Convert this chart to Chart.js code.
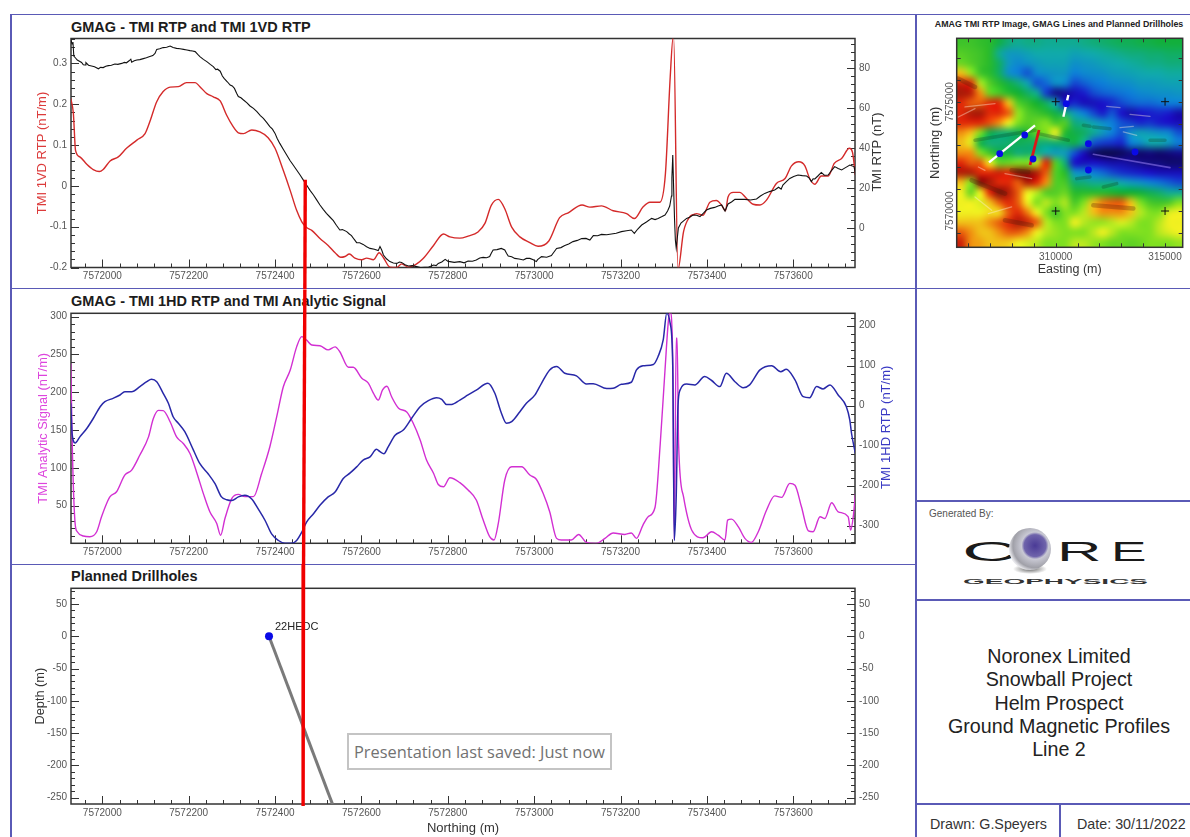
<!DOCTYPE html>
<html>
<head>
<meta charset="utf-8">
<title>Ground Magnetic Profiles Line 2</title>
<script src="https://cdn.jsdelivr.net/npm/chart.js@4"></script>
<style>
  html, body { margin: 0; padding: 0; background: #fff; width: 1190px; height: 837px; overflow: hidden; }
  body { font-family: "Liberation Sans", Arial, sans-serif; position: relative; filter: blur(0.4px); }
  canvas { position: absolute; }
  .rule { position: absolute; background: #5a5ab6; }
  .panel-title { position: absolute; left: 71px; font-weight: bold; font-size: 14.5px; line-height: 16px; color: #1c1c1c; }
  .map-title { position: absolute; left: 922px; width: 274px; top: 19px; text-align: center; font-weight: bold; font-size: 8.85px; line-height: 10px; color: #222; white-space: nowrap; }
  .generated { position: absolute; left: 929px; top: 508px; font-size: 10px; line-height: 12px; color: #555; }
  .project { position: absolute; left: 916px; width: 286px; top: 645px; text-align: center; font-size: 19.7px; line-height: 23.3px; color: #222; }
  .signoff { position: absolute; top: 816px; font-size: 14.3px; line-height: 16px; color: #333; }
  .saved { position: absolute; left: 347px; top: 732.5px; width: 265px; height: 37px; box-sizing: border-box; border: 2px solid #c4c4c4; background: #fff; color: #727272; font-family: "Open Sans", sans-serif; font-size: 16.4px; line-height: 33px; padding-left: 5px; white-space: nowrap; }
  #logo { position: absolute; left: 950px; top: 520px; }
</style>
</head>
<body>
  <!-- sheet layout -->
  <div class="rule" style="left:10px;top:13.5px;width:1180px;height:1.5px"></div>
  <div class="rule" style="left:10px;top:14px;width:1.5px;height:823px"></div>
  <div class="rule" style="left:915px;top:14px;width:1.5px;height:823px"></div>
  <div class="rule" style="left:10px;top:288px;width:1180px;height:1.2px"></div>
  <div class="rule" style="left:10px;top:563.5px;width:905px;height:1.2px"></div>
  <div class="rule" style="left:915px;top:500px;width:275px;height:1.5px"></div>
  <div class="rule" style="left:915px;top:599px;width:275px;height:1.5px"></div>
  <div class="rule" style="left:915px;top:803px;width:275px;height:1.5px"></div>
  <div class="rule" style="left:1059px;top:803px;width:1.5px;height:34px"></div>

  <div class="panel-title" style="top:19px">GMAG - TMI RTP and TMI 1VD RTP</div>
  <div class="panel-title" style="top:293px">GMAG - TMI 1HD RTP and TMI Analytic Signal</div>
  <div class="panel-title" style="top:568px">Planned Drillholes</div>
  <div class="map-title">AMAG TMI RTP Image, GMAG Lines and Planned Drillholes</div>

  <canvas id="mapChart" width="274" height="275" style="left:916px;top:14px"></canvas>
  <canvas id="rtpChart" width="915" height="275" style="left:0;top:14px"></canvas>
  <canvas id="signalChart" width="915" height="275" style="left:0;top:289px"></canvas>
  <canvas id="drillChart" width="915" height="273" style="left:0;top:564px"></canvas>

  <div class="generated">Generated By:</div>
  <svg id="logo" width="210" height="72" viewBox="0 0 210 72">
    <defs>
      <radialGradient id="ball" cx="0.62" cy="0.42" r="0.62">
        <stop offset="0" stop-color="#4a3a96"/>
        <stop offset="0.42" stop-color="#6f64ab"/>
        <stop offset="0.52" stop-color="#c9c9d4"/>
        <stop offset="0.85" stop-color="#a0a0a8"/>
        <stop offset="1" stop-color="#e6e6ea"/>
      </radialGradient>
      <radialGradient id="shade" cx="0.5" cy="0.5" r="0.5">
        <stop offset="0" stop-color="#666"/>
        <stop offset="1" stop-color="#fff"/>
      </radialGradient>
    </defs>
    <ellipse cx="80" cy="49" rx="17" ry="5" fill="url(#shade)"/>
    <g font-family="Liberation Sans" fill="#1a1a1a">
      <text transform="translate(12,41) scale(2.75,1)" font-size="28">C</text>
      <circle cx="80" cy="29" r="21" fill="url(#ball)"/>
      <text transform="translate(107,41) scale(2.2,1)" font-size="28">R</text>
      <text transform="translate(161,41) scale(1.9,1)" font-size="28">E</text>
      <text transform="translate(13,64) scale(1,0.9)" font-size="8.5" font-weight="bold" textLength="185" lengthAdjust="spacingAndGlyphs" fill="#333">GEOPHYSICS</text>
    </g>
  </svg>

  <div class="project">Noronex Limited<br>Snowball Project<br>Helm Prospect<br>Ground Magnetic Profiles<br>Line 2</div>
  <div class="signoff" style="left:930px">Drawn: G.Speyers</div>
  <div class="signoff" style="left:1077px">Date: 30/11/2022</div>
  <div class="saved">Presentation last saved: Just now</div>

<script>
// Axis ticks shared by the three profile panels
const northingTicks = [7572000, 7572200, 7572400, 7572600, 7572800, 7573000, 7573200, 7573400, 7573600];
const vdTicks = [-0.2, -0.1, 0, 0.1, 0.2, 0.3];
const rtpTicks = [0, 20, 40, 60, 80];
const asTicks = [50, 100, 150, 200, 250, 300];
const hdTicks = [-300, -200, -100, 0, 100, 200];
const depthTicks = [-250, -200, -150, -100, -50, 0, 50];
const eastingTicks = [310000, 315000];
const mapNorthingTicks = [7570000, 7575000];

// TMI 1VD RTP (nT/m)
const vdNorthing = [
  7571927, 7571933, 7571938, 7571948, 7571964, 7571979, 7571993, 7572002, 7572018, 7572037,
  7572056, 7572080, 7572099, 7572110, 7572126, 7572141, 7572157, 7572176, 7572195, 7572215,
  7572226, 7572242, 7572257, 7572273, 7572288, 7572303, 7572315, 7572327, 7572346, 7572365,
  7572384, 7572400, 7572419, 7572435, 7572450, 7572462, 7572473, 7572485, 7572504, 7572523,
  7572539, 7572552, 7572562, 7572572, 7572585, 7572601, 7572612, 7572628, 7572641, 7572651,
  7572666, 7572682, 7572693, 7572709, 7572728, 7572743, 7572767, 7572790, 7572805, 7572828,
  7572847, 7572870, 7572886, 7572901, 7572917, 7572932, 7572948, 7572967, 7572990, 7573009,
  7573034, 7573059, 7573079, 7573111, 7573129, 7573156, 7573183, 7573214, 7573232, 7573252,
  7573268, 7573291, 7573304, 7573315, 7573322, 7573323, 7573333, 7573346, 7573361, 7573370,
  7573376, 7573391, 7573407, 7573422, 7573434, 7573443, 7573449, 7573461, 7573476, 7573492,
  7573507, 7573523, 7573538, 7573561, 7573581, 7573596, 7573613, 7573627, 7573638, 7573650,
  7573665, 7573681, 7573695, 7573712, 7573730, 7573737, 7573744
];
const vdValues = [
  0.214, 0.177, 0.087, 0.071, 0.053, 0.040, 0.035, 0.040, 0.061, 0.071,
  0.092, 0.112, 0.128, 0.157, 0.206, 0.231, 0.242, 0.243, 0.253, 0.253,
  0.243, 0.226, 0.218, 0.208, 0.173, 0.145, 0.130, 0.128, 0.137, 0.132,
  0.118, 0.092, 0.038, -0.011, -0.060, -0.088, -0.102, -0.109, -0.129, -0.146,
  -0.164, -0.175, -0.173, -0.167, -0.177, -0.181, -0.177, -0.181, -0.164, -0.176,
  -0.199, -0.200, -0.191, -0.199, -0.191, -0.178, -0.146, -0.118, -0.125, -0.128,
  -0.123, -0.113, -0.092, -0.047, -0.033, -0.056, -0.101, -0.125, -0.139, -0.148,
  -0.135, -0.078, -0.066, -0.047, -0.052, -0.049, -0.061, -0.068, -0.080, -0.052,
  -0.040, -0.040, 0.03, 0.265, 0.365, 0.365, -0.205, -0.112, -0.075, -0.070,
  -0.068, -0.072, -0.040, -0.036, -0.047, -0.061, -0.027, -0.016, -0.016, -0.031,
  -0.045, -0.047, -0.035, 0.006, 0.018, 0.049, 0.059, 0.049, 0.018, 0.004,
  0.024, 0.024, 0.055, 0.067, 0.092, 0.083, 0.026
];

// TMI RTP (nT)
const rtpNorthing = [
  7571927, 7571930, 7571932, 7571934, 7571938, 7571942, 7571947, 7571952, 7571956, 7571960,
  7571962, 7571968, 7571975, 7571982, 7571991, 7571996, 7572002, 7572008, 7572014, 7572021,
  7572029, 7572036, 7572045, 7572051, 7572056, 7572062, 7572066, 7572068, 7572074, 7572080,
  7572087, 7572095, 7572102, 7572110, 7572117, 7572122, 7572126, 7572133, 7572141, 7572149,
  7572157, 7572164, 7572172, 7572180, 7572188, 7572196, 7572203, 7572209, 7572215, 7572221,
  7572226, 7572234, 7572242, 7572250, 7572257, 7572263, 7572267, 7572273, 7572278, 7572282,
  7572290, 7572296, 7572301, 7572306, 7572311, 7572315, 7572321, 7572327, 7572335, 7572342,
  7572350, 7572358, 7572366, 7572373, 7572381, 7572388, 7572394, 7572400, 7572405, 7572411,
  7572419, 7572427, 7572435, 7572442, 7572450, 7572458, 7572466, 7572473, 7572481, 7572489,
  7572496, 7572504, 7572512, 7572519, 7572527, 7572535, 7572542, 7572550, 7572556, 7572566,
  7572572, 7572577, 7572583, 7572589, 7572596, 7572604, 7572612, 7572620, 7572630, 7572639,
  7572643, 7572647, 7572651, 7572658, 7572666, 7572674, 7572682, 7572688, 7572693, 7572701,
  7572709, 7572718, 7572728, 7572737, 7572747, 7572755, 7572767, 7572773, 7572778, 7572786,
  7572794, 7572800, 7572805, 7572815, 7572828, 7572838, 7572847, 7572857, 7572866, 7572874,
  7572882, 7572890, 7572897, 7572901, 7572905, 7572914, 7572924, 7572932, 7572936, 7572940,
  7572948, 7572955, 7572965, 7572975, 7572982, 7572990, 7572998, 7573005, 7573008, 7573017,
  7573029, 7573040, 7573046, 7573052, 7573062, 7573071, 7573080, 7573090, 7573100, 7573110,
  7573120, 7573129, 7573137, 7573147, 7573156, 7573168, 7573179, 7573190, 7573202, 7573214,
  7573225, 7573232, 7573240, 7573249, 7573260, 7573272, 7573280, 7573287, 7573295, 7573303,
  7573309, 7573314, 7573318, 7573319, 7573321, 7573323, 7573325, 7573327, 7573329, 7573331,
  7573334, 7573340, 7573353, 7573360, 7573368, 7573376, 7573384, 7573392, 7573399, 7573408,
  7573418, 7573426, 7573434, 7573442, 7573449, 7573457, 7573465, 7573476, 7573488, 7573501,
  7573515, 7573524, 7573534, 7573545, 7573557, 7573566, 7573572, 7573576, 7573584, 7573592,
  7573601, 7573611, 7573621, 7573631, 7573637, 7573642, 7573646, 7573650, 7573657, 7573665,
  7573672, 7573681, 7573688, 7573696, 7573704, 7573712, 7573721, 7573731, 7573737, 7573741,
  7573744
];
const rtpValues = [
  94.3, 92, 93, 86, 85, 84, 83.4, 82.8, 81.6, 81.5,
  82.7, 81.4, 81, 80.6, 79.6, 80.3, 80.2, 80.9, 81.2, 81.4,
  82, 81.8, 82.3, 82.8, 82.6, 83.6, 84.4, 82.9, 83.6, 84,
  84.2, 84.7, 85.1, 85.7, 86.2, 87.3, 89.3, 89.6, 90.2, 90.4,
  91, 90.2, 89.8, 89.6, 89.3, 89, 88.7, 88.5, 88.2, 86.8,
  85.7, 84.3, 83.2, 81.8, 80.7, 79.2, 79.4, 78.4, 76, 74.8,
  73, 71.5, 71, 69.8, 67.4, 65.7, 65.1, 64, 62.6, 61,
  59.8, 58.2, 56.2, 54.8, 52.7, 50.7, 49.4, 47.3, 44.8, 42.3,
  39.4, 36.5, 33.6, 31.5, 29, 26.5, 23.8, 21.5, 18.8, 16.5,
  14.2, 11.5, 9.2, 7.3, 5.5, 3.7, 1.4, -1, -0.8, -1.8,
  -3, -3.8, -5.6, -7.3, -7.4, -8.2, -9.4, -10.2, -10.6, -11.3,
  -9.3, -11, -13.5, -15.4, -16.8, -17.5, -17.7, -17, -17.2, -18.4,
  -19, -18.8, -19.3, -19.8, -19.7, -19.6, -18.5, -18.8, -17.7, -17,
  -15.7, -16.6, -16.8, -17.2, -16.8, -17.4, -16.5, -16.6, -16, -15,
  -14.7, -14.9, -14.3, -12.5, -11, -10.8, -10.2, -11, -12.6, -14,
  -14.4, -15.2, -15.5, -16, -15.2, -15.2, -15.9, -16.8, -15.8, -14.3,
  -14.6, -13.8, -12, -10.2, -9.8, -8.8, -8, -6.8, -6.2, -5.3,
  -5.2, -6, -3.8, -3.9, -3.2, -3.4, -3, -2.6, -1.8, -1.4,
  -1, -2.7, -0.5, 1.5, 3, 4.8, 4.2, 4.8, 5.6, 6.5,
  8.5, 11, 16, 25, 36.5, 20, 5, -6, -10, -6,
  0, 2.5, 4.8, 5.4, 6.5, 6.4, 5.7, 7.4, 9, 9.8,
  10.3, 11, 11.5, 8.5, 12, 13, 14.3, 14.4, 14.3, 14,
  14.5, 16, 17.3, 18.2, 19, 20.4, 19.4, 21.5, 23.2, 24.8,
  25.8, 26.5, 26.2, 26, 25, 23.2, 24.6, 24.5, 26, 27.8,
  26.4, 26.5, 28.6, 30.7, 29.8, 29, 30.2, 31.5, 31, 30.7,
  26.5
];

// TMI Analytic Signal (nT/m)
const asNorthing = [
  7571927, 7571931, 7571937, 7571942, 7571956, 7571971, 7571987, 7571998, 7572010, 7572018,
  7572033, 7572052, 7572068, 7572087, 7572107, 7572118, 7572130, 7572141, 7572157, 7572172,
  7572188, 7572203, 7572218, 7572234, 7572249, 7572265, 7572274, 7572284, 7572300, 7572315,
  7572330, 7572350, 7572369, 7572388, 7572404, 7572419, 7572435, 7572450, 7572462, 7572473,
  7572485, 7572504, 7572523, 7572539, 7572550, 7572570, 7572581, 7572601, 7572616, 7572628,
  7572639, 7572649, 7572659, 7572670, 7572686, 7572705, 7572720, 7572736, 7572751, 7572767,
  7572778, 7572790, 7572805, 7572828, 7572847, 7572866, 7572882, 7572897, 7572907, 7572917,
  7572932, 7572948, 7572971, 7572990, 7573005, 7573021, 7573036, 7573052, 7573063, 7573086,
  7573103, 7573121, 7573144, 7573164, 7573183, 7573210, 7573225, 7573237, 7573252, 7573264,
  7573280, 7573292, 7573303, 7573311, 7573315, 7573321, 7573324.5, 7573329, 7573331, 7573334.5,
  7573346, 7573365, 7573391, 7573411, 7573426, 7573442, 7573448, 7573457, 7573473, 7573488,
  7573503, 7573519, 7573538, 7573557, 7573573, 7573592, 7573604, 7573619, 7573635, 7573646,
  7573662, 7573673, 7573689, 7573704, 7573727, 7573733, 7573739, 7573744
];
const asValues = [
  238, 115, 26.7, 15.6, 9.9, 9, 15.6, 35, 53, 62,
  68.5, 90.5, 97, 117, 141, 165, 176, 175.7, 161, 141,
  132, 119, 95, 66, 42, 26.5, 11, 33, 59.6, 65,
  62, 62, 92.6, 128, 168, 207, 229, 260, 273.5, 269,
  262.5, 261.5, 256, 260, 253.6, 233, 233, 218.5, 212, 198.5,
  189.6, 203, 208, 194, 179, 174, 159, 137, 110, 93,
  78, 75, 87, 80.5, 70.7, 57.5, 31, 9, 4.6, 26.6,
  84, 101.5, 101.5, 90.5, 85, 66, 42, 6.8, 4.6, 4.6,
  12, 1.5, 0.2, 6.8, 14, 12, 14, 6.8, 24.4, 35.5,
  48, 132, 229, 295, 306, 242, 5, 271.5, 271.5, 132,
  61.6, 17.6, 7.7, 15.6, 11, 4.6, 31, 32.2, 22, 6.8,
  1.5, 15.6, 44, 63, 61, 79.5, 77, 48.6, 16.8, 15.6,
  35.5, 33, 54, 42, 35.5, 17.7, 35.5, 66
];

// TMI 1HD RTP (nT/m)
const hdNorthing = [
  7571927, 7571930, 7571937, 7571948, 7571964, 7571979, 7571995, 7572006, 7572025, 7572041,
  7572052, 7572068, 7572087, 7572103, 7572114, 7572126, 7572141, 7572153, 7572164, 7572176,
  7572191, 7572211, 7572226, 7572245, 7572261, 7572276, 7572288, 7572300, 7572315, 7572330,
  7572346, 7572361, 7572377, 7572392, 7572408, 7572423, 7572438, 7572450, 7572462, 7572473,
  7572489, 7572504, 7572523, 7572539, 7572558, 7572574, 7572589, 7572604, 7572620, 7572635,
  7572643, 7572652, 7572662, 7572678, 7572697, 7572716, 7572736, 7572755, 7572774, 7572786,
  7572797, 7572809, 7572828, 7572847, 7572866, 7572893, 7572909, 7572923, 7572936, 7572948,
  7572967, 7572982, 7573002, 7573017, 7573036, 7573052, 7573071, 7573098, 7573121, 7573137,
  7573168, 7573183, 7573202, 7573225, 7573237, 7573252, 7573276, 7573287, 7573299, 7573307,
  7573315, 7573321, 7573324.5, 7573329, 7573333, 7573338, 7573353, 7573372, 7573395, 7573411,
  7573430, 7573445, 7573465, 7573484, 7573499, 7573523, 7573550, 7573571, 7573584, 7573604,
  7573623, 7573638, 7573654, 7573669, 7573685, 7573704, 7573723, 7573731, 7573735, 7573744
];
const hdValues = [
  6, -70, -93, -78, -57, -32, -2.5, 10, 18.4, 26.8,
  35, 35, 47.7, 60, 66, 60, 31, 6, -27.6, -44,
  -65, -111, -145, -170, -195, -228, -235, -237, -228, -224,
  -233, -258, -287, -320.5, -337, -344, -344, -337, -316, -291,
  -270, -249, -228, -216, -182, -168, -153, -136, -128, -109,
  -115, -120, -103, -74, -61, -32, -2.5, 12.6, 20, 16,
  3.3, 3.3, 14, 26.8, 39, 56, 31, -15, -44, -40,
  -15, 6, 27, 56, 89.5, 98, 81, 74.5, 54.4, 55,
  42.7, 43.5, 53.5, 58.6, 89.5, 99.6, 103, 123, 165, 231,
  206, 97, -337, -227, -2.5, 39, 54, 52, 73, 63,
  47.7, 81, 60, 45, 52, 89.5, 100, 85, 91, 64.4,
  22.6, 20, 47.7, 42, 52, 26.8, -2.5, -36, -69.5, -120
];

// Planned drillhole trace: collar, then down to the section floor
const holeNorthing = [7572386, 7572533];
const holeDepth = [0, -260];
const holeName = "22HEDC";

// Red marker crossing all three profile panels (each panel in its own units)
const markerNorthing1 = [7572470, 7572469];
const markerValue1 = [0.015, -0.253];
const markerNorthing2 = [7572469, 7572466];
const markerValue2 = [336, -27];
const markerNorthing3 = [7572466, 7572465];
const markerValue3 = [112, -263];

// Location map: gridded TMI RTP image, top row first, 0 = lowest, 9 = highest
const mapGrid = [
  [4.4, 4.4, 4.3, 4.2, 3.8, 3.4, 3.2, 3.3, 3.3, 3.2, 3.2, 3.2, 3.2, 3.3, 3.4, 3.5, 3.6, 3.7, 3.7, 3.8, 3.8, 3.9, 3.9, 3.9],
  [4.6, 4.5, 4.4, 4.2, 3.2, 2.6, 2.6, 2.8, 3.0, 3.0, 3.0, 3.0, 2.8, 2.9, 3, 3.1, 3.2, 3.3, 3.4, 3.4, 3.5, 3.5, 3.6, 3.6],
  [4.8, 4.6, 4.4, 4.2, 3.6, 2.6, 2.2, 2.4, 2.6, 2.8, 2.8, 2.8, 2.4, 2.5, 2.6, 2.8, 2.9, 3, 3.1, 3.2, 3.3, 3.3, 3.4, 3.4],
  [6.5, 5.2, 4.4, 4.2, 3.6, 2.4, 2.0, 1.6, 2.2, 2.4, 2.5, 2.5, 2, 2.2, 2.3, 2.4, 2.6, 2.7, 2.8, 2.9, 3, 3, 3.1, 3.1],
  [8.2, 8, 5.4, 4.6, 4.2, 3.8, 3.4, 2.8, 1.6, 1.8, 2.4, 2.2, 1.5, 1.7, 1.9, 2, 2.2, 2.3, 2.4, 2.6, 2.6, 2.7, 2.8, 2.8],
  [8.6, 8.4, 7, 4.8, 4.5, 4.2, 4, 3.6, 3.2, 1.4, 0.6, 0.7, 0.9, 1.1, 1.5, 1.7, 1.8, 1.9, 2, 2.2, 2.3, 2.4, 2.4, 2.5],
  [8, 7.5, 7.5, 8, 8, 6.5, 4.6, 4.3, 4, 3.6, 2.8, 1, 1.2, 0.9, 0.9, 1, 1.2, 1.5, 1.7, 1.8, 1.8, 1.9, 2, 2],
  [8, 8.5, 8.6, 8, 8, 7.5, 5.2, 4.6, 4.4, 4.2, 3.8, 3.4, 2.6, 2, 1.5, 1.1, 1.6, 1.0, 0.8, 1.0, 1.1, 1.2, 1.1, 0.8],
  [8, 8, 8, 7.6, 7, 6, 5, 4.6, 4.8, 5, 4.5, 4.6, 3.4, 3.2, 2.8, 2.4, 2.0, 1.6, 1.4, 1.2, 1.3, 1.1, 1, 0.9],
  [7, 6.5, 5, 3.8, 3.5, 3.5, 3.7, 4.2, 4.7, 5, 6, 4.2, 3.8, 3.6, 3.2, 2.6, 2.0, 1.6, 2.4, 2.8, 2.6, 2.4, 2.2, 1.6],
  [6.5, 5.8, 3.8, 3.4, 3.4, 3.5, 3.7, 3.6, 3.5, 3.4, 3.5, 3.6, 3.8, 3.2, 1.6, 1.4, 1.3, 1.2, 2.0, 2.4, 3, 3, 2.6, 2.0],
  [7, 7, 5, 4.4, 3.8, 3.8, 3.4, 3.5, 3.3, 3, 2.6, 2.6, 1.6, 0.9, 0.4, 0.2, 0.2, 0.3, 0.5, 0.4, 0.5, 0.4, 0.5, 0.6],
  [8, 7.5, 7.5, 6, 4.8, 4.8, 5, 5, 5.5, 8, 4.6, 3.4, 1.0, 0.9, 1.0, 0.9, 0.8, 0.8, 0.7, 0.6, 0.5, 0.5, 0.4, 0.4],
  [8.5, 8.5, 8, 8, 8.2, 8, 9, 9, 8.5, 7.5, 4.6, 4.2, 2.5, 2.3, 2.0, 1.8, 1.5, 1.3, 1.2, 1.1, 1.0, 0.9, 0.9, 0.9],
  [6.5, 5, 9, 8.6, 8, 8, 7.5, 8.5, 8, 7, 4.6, 4.5, 3.5, 3.4, 3.2, 3.2, 3.2, 2.9, 2.6, 2.4, 2.1, 1.9, 1.7, 1.5],
  [6, 4.8, 6, 8, 9, 8.5, 7.5, 6, 5.5, 4.6, 4.6, 4.8, 4.2, 4.2, 4.2, 4.2, 4.1, 4.0, 4, 3.9, 3.7, 3.5, 3.2, 3.2],
  [6, 6, 5.8, 6.5, 7.5, 8, 7.5, 6, 5, 5.5, 5, 5.4, 4.5, 5, 6.5, 7.2, 7.5, 7.5, 6.5, 5, 4.5, 4.4, 4.5, 5],
  [6, 6, 6, 6.2, 6.2, 7.5, 8, 7.2, 6, 5, 4.4, 5, 5, 5.5, 6.5, 7, 7, 7, 6.5, 5.5, 5, 5, 5.8, 6],
  [6.5, 6.5, 6.5, 7, 7.5, 8, 8.5, 8.2, 7.5, 5.5, 5, 5, 6, 5.5, 5.2, 5.2, 5.5, 5.8, 5.5, 5, 5, 5.5, 6, 6],
  [7.5, 7, 6.5, 6.5, 7, 7.5, 7.5, 7, 6, 5.5, 5.2, 5, 5, 5, 5.5, 6, 5.5, 5, 5, 5, 5, 5.5, 5.8, 6],
  [8.2, 7, 6.8, 6.5, 6.5, 6.4, 6, 5.8, 5.5, 5, 5, 5, 5.5, 5.5, 5.2, 5, 4.8, 4.8, 4.7, 4.8, 5, 5, 5, 5.2]
];
const mapColors = [[8, 8, 46], [26, 16, 200], [13, 127, 216], [16, 170, 170], [18, 176, 48], [128, 224, 32], [240, 240, 32], [240, 144, 16], [224, 40, 8], [128, 16, 8]];

// Shaded ridges on the image: easting1, northing1, easting2, northing2
const paleRidges = [
  [305548, 7574300, 306310, 7574681], [305853, 7574758, 307225, 7574910], [306463, 7572014, 306768, 7571862],
  [307682, 7571710, 308901, 7571481], [306310, 7570643, 307072, 7570033], [306920, 7569881, 307987, 7570186],
  [312330, 7574788, 312940, 7574727], [313397, 7574422, 314312, 7574331], [312940, 7573813, 313550, 7573874],
  [313092, 7573615, 313702, 7573462]
];
const purpleRidges = [[311721, 7572594, 315226, 7571984]];
const darkRidges = [
  [306310, 7573234, 309054, 7573691], [309206, 7573538, 310578, 7573234], [311264, 7573919, 311568, 7573873],
  [311721, 7573843, 312483, 7573767], [314312, 7573234, 314997, 7573234], [310959, 7571481, 311568, 7571557],
  [312178, 7571100, 312788, 7571252]
];
const brownRidges = [
  [306158, 7571405, 307682, 7570795], [307987, 7571862, 308749, 7571786], [311721, 7570262, 313550, 7570110],
  [305548, 7576053, 306310, 7575672], [307682, 7569576, 308901, 7569347]
];

// Lines and collars on the location map
const lineAEasting = [306952, 309054];
const lineANorthing = [7572226, 7573919];
const lineBEasting = [310351, 310579];
const lineBNorthing = [7574314, 7575305];
const sectionEasting = [308827, 309238];
const sectionNorthing = [7572104, 7573705];
const collarEasting = [307440, 308583, 308964, 310488, 311494, 311494, 313627];
const collarNorthing = [7572623, 7573476, 7572379, 7574909, 7573080, 7571876, 7572699];
const crossEasting = [310000, 315000, 310000, 315000];
const crossNorthing = [7575000, 7575000, 7570000, 7570000];

const labelColor = "#555";
const frameColor = "#333";

function zip(xs, ys) {
  return xs.map((x, i) => ({ x: x, y: ys[i] }));
}

function lineSet(xs, ys, color, width, extra) {
  return Object.assign({
    data: zip(xs, ys),
    borderColor: color,
    backgroundColor: color,
    borderWidth: width,
    pointRadius: 0,
    tension: 0,
    borderCapStyle: "butt"
  }, extra || {});
}

// One dataset per colour, gaps between the separate strokes
function ridgeSet(segments, color, width) {
  const data = [];
  segments.forEach((s) => {
    data.push({ x: s[0], y: s[1] }, { x: s[2], y: s[3] }, { x: s[2], y: null });
  });
  return { data: data, borderColor: color, borderWidth: width, pointRadius: 0, tension: 0, spanGaps: false, borderCapStyle: "round" };
}

function stepList(from, to, step) {
  const out = [];
  for (let v = from; v <= to + step / 1000; v += step) out.push(Math.round(v / step) * step);
  return out;
}

// Plot frame and the inward pointing major/minor ticks
function framePlugin(axes) {
  return {
    id: "frameTicks",
    beforeDatasetsDraw(chart) {
      const { ctx, chartArea: a, scales } = chart;
      ctx.save();
      ctx.strokeStyle = frameColor;
      ctx.lineWidth = 1;
      axes.forEach((ax) => {
        const scale = scales[ax.id];
        const draw = (v, len) => {
          if (v < scale.min || v > scale.max) return;
          const p = Math.round(scale.getPixelForValue(v)) + 0.5;
          ctx.beginPath();
          if (ax.side === "bottom") { ctx.moveTo(p, a.bottom); ctx.lineTo(p, a.bottom - len); }
          if (ax.side === "top") { ctx.moveTo(p, a.top); ctx.lineTo(p, a.top + len); }
          if (ax.side === "left") { ctx.moveTo(a.left, p); ctx.lineTo(a.left + len, p); }
          if (ax.side === "right") { ctx.moveTo(a.right, p); ctx.lineTo(a.right - len, p); }
          ctx.stroke();
        };
        ax.minor.forEach((v) => draw(v, 4));
        ax.major.forEach((v) => draw(v, 8));
      });
      ctx.lineWidth = 1.5;
      ctx.strokeRect(a.left, a.top, a.right - a.left, a.bottom - a.top);
      ctx.restore();
    }
  };
}

// Chart.js turns a right axis title clockwise, the sheet reads bottom to top
function rightTitlePlugin(text, color, x) {
  return {
    id: "rightTitle",
    afterDraw(chart) {
      const { ctx, chartArea: a } = chart;
      ctx.save();
      ctx.translate(x, (a.top + a.bottom) / 2 - 1);
      ctx.rotate(-Math.PI / 2);
      ctx.fillStyle = color;
      ctx.font = "13px 'Liberation Sans'";
      ctx.textAlign = "center";
      ctx.textBaseline = "middle";
      ctx.fillText(text, 0, 0);
      ctx.restore();
    }
  };
}

function holeLabelPlugin() {
  return {
    id: "holeLabel",
    beforeDatasetsDraw(chart) {
      const { ctx, scales } = chart;
      ctx.save();
      ctx.fillStyle = "#222";
      ctx.font = "11px 'Liberation Sans'";
      ctx.textBaseline = "middle";
      ctx.fillText(holeName, scales.x.getPixelForValue(holeNorthing[0]) + 6, scales.y.getPixelForValue(holeDepth[0]) - 9);
      ctx.restore();
    }
  };
}

function colorFor(value) {
  const i = Math.min(Math.floor(value), mapColors.length - 2);
  const t = value - i;
  return mapColors[i].map((c, k) => Math.round(c + (mapColors[i + 1][k] - c) * t));
}

// Grid is painted small and stretched onto the axes, so the scales place it
function mapImagePlugin() {
  const rows = mapGrid.length;
  const cols = mapGrid[0].length;
  const small = document.createElement("canvas");
  small.width = cols;
  small.height = rows;
  const sctx = small.getContext("2d");
  mapGrid.forEach((row, r) => row.forEach((v, c) => {
    const col = colorFor(v);
    sctx.fillStyle = `rgb(${col[0]},${col[1]},${col[2]})`;
    sctx.fillRect(c, r, 1, 1);
  }));
  return {
    id: "mapImage",
    beforeDatasetsDraw(chart) {
      const { ctx, chartArea: a } = chart;
      ctx.save();
      ctx.imageSmoothingEnabled = true;
      ctx.imageSmoothingQuality = "high";
      ctx.drawImage(small, a.left, a.top, a.right - a.left, a.bottom - a.top);
      ctx.restore();
    }
  };
}

function northingAxis(showTitle, height) {
  return {
    type: "linear",
    min: 7571927.5,
    max: 7573743,
    grid: { display: false, drawTicks: false, tickLength: 0 },
    border: { display: false },
    title: showTitle
      ? { display: true, text: "Northing (m)", color: "#333", padding: 0, font: { size: 13, family: "Liberation Sans" } }
      : { display: false },
    ticks: {
      autoSkip: false,
      maxRotation: 0,
      padding: 3,
      color: labelColor,
      font: { size: 10, family: "Liberation Sans" },
      callback: (v) => String(v)
    },
    afterBuildTicks: (s) => { s.ticks = northingTicks.map((v) => ({ value: v })); },
    afterFit: (s) => { s.height = height; }
  };
}

function valueAxis(position, min, max, ticks, width, title, titleColor, titleSize) {
  return {
    type: "linear",
    position: position,
    min: min,
    max: max,
    grid: { display: false, drawTicks: false, tickLength: 0 },
    border: { display: false },
    title: title
      ? { display: true, text: title, color: titleColor, padding: 0, font: { size: titleSize, family: "Liberation Sans" } }
      : { display: false },
    ticks: {
      padding: 4,
      color: labelColor,
      font: { size: 10, family: "Liberation Sans" },
      callback: (v) => String(v)
    },
    afterBuildTicks: (s) => { s.ticks = ticks.map((v) => ({ value: v })); },
    afterFit: (s) => { s.width = width; }
  };
}

const northingMinor = stepList(7571960, 7573720, 40);

const baseOptions = (padding, scales) => ({
  responsive: false,
  animation: false,
  events: [],
  layout: { padding: padding },
  plugins: { legend: { display: false }, tooltip: { enabled: false }, title: { display: false } },
  scales: scales
});

const smooth = { cubicInterpolationMode: "monotone" };

new Chart(document.getElementById("rtpChart").getContext("2d"), {
  type: "line",
  data: {
    datasets: [
      lineSet(markerNorthing1, markerValue1, "#f00000", 3.4, { yAxisID: "y", clip: false }),
      lineSet(rtpNorthing, rtpValues, "#111", 1.1, { yAxisID: "y2" }),
      lineSet(vdNorthing, vdValues, "#d42a2a", 1.4, Object.assign({ yAxisID: "y" }, smooth))
    ]
  },
  options: baseOptions({ left: 35, right: 31, top: 24.5, bottom: 0 }, {
    x: northingAxis(false, 21.5),
    y: valueAxis("left", -0.2, 0.361, vdTicks, 36, "TMI 1VD RTP (nT/m)", "#dc3b3b", 13),
    y2: valueAxis("right", -19.75, 94.75, rtpTicks, 29, null, "#333")
  }),
  plugins: [rightTitlePlugin("TMI RTP (nT)", "#333", 877), framePlugin([
    { id: "x", side: "bottom", major: northingTicks, minor: northingMinor },
    { id: "y", side: "left", major: vdTicks, minor: stepList(-0.2, 0.36, 0.02) },
    { id: "y2", side: "right", major: rtpTicks, minor: stepList(-16, 92, 4) }
  ])]
});

new Chart(document.getElementById("signalChart").getContext("2d"), {
  type: "line",
  data: {
    datasets: [
      lineSet(markerNorthing2, markerValue2, "#f00000", 3.4, { yAxisID: "y", clip: false }),
      lineSet(hdNorthing, hdValues, "#2828a8", 1.5, Object.assign({ yAxisID: "y2" }, smooth)),
      lineSet(asNorthing, asValues, "#d22fd2", 1.4, Object.assign({ yAxisID: "y" }, smooth))
    ]
  },
  options: baseOptions({ left: 36, right: 21, top: 24.3, bottom: 0 }, {
    x: northingAxis(false, 20.7),
    y: valueAxis("left", 0.3, 304.4, asTicks, 35, "TMI Analytic Signal (nT/m)", "#dd44dd", 12.8),
    y2: valueAxis("right", -344, 231, hdTicks, 39, null, "#3a3ac4")
  }),
  plugins: [rightTitlePlugin("TMI 1HD RTP (nT/m)", "#3a3ac4", 886.7), framePlugin([
    { id: "x", side: "bottom", major: northingTicks, minor: northingMinor },
    { id: "y", side: "left", major: asTicks, minor: stepList(10, 300, 10) },
    { id: "y2", side: "right", major: hdTicks, minor: stepList(-340, 220, 20) }
  ])]
});

new Chart(document.getElementById("drillChart").getContext("2d"), {
  type: "line",
  data: {
    datasets: [
      lineSet(markerNorthing3, markerValue3, "#f00000", 3.4, { clip: false }),
      {
        data: zip(holeNorthing.slice(0, 1), holeDepth.slice(0, 1)),
        showLine: false,
        pointRadius: 4,
        pointBackgroundColor: "#0a0ae6",
        pointBorderWidth: 0
      },
      lineSet(holeNorthing, holeDepth, "#7a7a7a", 3)
    ]
  },
  options: baseOptions({ left: 33, right: 31, top: 24.3, bottom: 1 }, {
    x: northingAxis(true, 32),
    y: valueAxis("left", -259.8, 74.3, depthTicks, 38, "Depth (m)", "#333", 12.8),
    y2: valueAxis("right", -259.8, 74.3, depthTicks, 29, null, "#333")
  }),
  plugins: [holeLabelPlugin(), framePlugin([
    { id: "x", side: "bottom", major: northingTicks, minor: northingMinor },
    { id: "y", side: "left", major: depthTicks, minor: stepList(-250, 70, 10) },
    { id: "y2", side: "right", major: depthTicks, minor: stepList(-250, 70, 10) }
  ])]
});

const mapLabelFont = { size: 10, family: "Liberation Sans" };

new Chart(document.getElementById("mapChart").getContext("2d"), {
  type: "line",
  data: {
    datasets: [
      {
        data: zip(collarEasting, collarNorthing),
        showLine: false,
        pointRadius: 3.4,
        pointBackgroundColor: "#0a0ae6",
        pointBorderWidth: 0
      },
      lineSet(sectionEasting, sectionNorthing, "#d81818", 2.8),
      lineSet(lineAEasting, lineANorthing, "#fff", 2.4),
      lineSet(lineBEasting, lineBNorthing, "#fff", 2.4),
      {
        data: zip(crossEasting, crossNorthing),
        showLine: false,
        pointStyle: "cross",
        pointRadius: 4,
        pointBorderColor: "#111",
        pointBorderWidth: 1
      },
      ridgeSet(purpleRidges, "rgba(165,140,255,0.5)", 1.6),
      ridgeSet(paleRidges, "rgba(255,238,220,0.4)", 1.3),
      ridgeSet(darkRidges, "rgba(15,60,30,0.28)", 3.5),
      ridgeSet(brownRidges, "rgba(80,30,10,0.3)", 4.5)
    ]
  },
  options: baseOptions({ left: 12, right: 7.3, top: 24.3, bottom: 12 }, {
    x: {
      type: "linear",
      min: 305473,
      max: 315807,
      grid: { display: false, drawTicks: false, tickLength: 0 },
      border: { display: false },
      title: { display: true, text: "Easting (m)", color: "#333", padding: 0, font: { size: 12.5, family: "Liberation Sans" } },
      ticks: { autoSkip: false, maxRotation: 0, padding: 4, color: labelColor, font: mapLabelFont, callback: (v) => String(v) },
      afterBuildTicks: (s) => { s.ticks = eastingTicks.map((v) => ({ value: v })); },
      afterFit: (s) => { s.height = 29.7; }
    },
    y: {
      type: "linear",
      min: 7568340,
      max: 7577899,
      grid: { display: false, drawTicks: false, tickLength: 0 },
      border: { display: false },
      title: { display: true, text: "Northing (m)", color: "#333", padding: 0, font: { size: 13, family: "Liberation Sans" } },
      ticks: { minRotation: 90, maxRotation: 90, crossAlign: "center", padding: -13, color: labelColor, font: mapLabelFont, callback: (v) => String(v) },
      afterBuildTicks: (s) => { s.ticks = mapNorthingTicks.map((v) => ({ value: v })); },
      afterFit: (s) => { s.width = 28.7; }
    }
  }),
  plugins: [mapImagePlugin(), framePlugin([
    { id: "x", side: "bottom", major: [], minor: stepList(306000, 315000, 1000) },
    { id: "x", side: "top", major: [], minor: stepList(306000, 315000, 1000) },
    { id: "y", side: "left", major: [], minor: stepList(7569000, 7577000, 1000) },
    { id: "y", side: "right", major: [], minor: stepList(7569000, 7577000, 1000) }
  ])]
});
</script>
</body>
</html>
